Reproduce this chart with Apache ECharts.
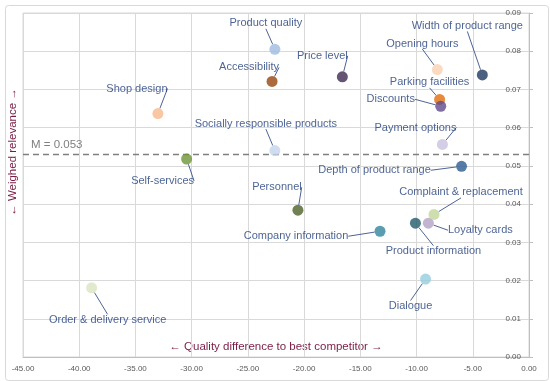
<!DOCTYPE html>
<html>
<head>
<meta charset="utf-8">
<script src="https://cdn.jsdelivr.net/npm/echarts@6/dist/echarts.min.js"></script>
<style>
html,body{margin:0;padding:0;background:#fff;}
#c{width:550px;height:381px;}
</style>
</head>
<body>
<div id="c"></div>
<script>
// ---- data ----
const names = [
  'Product quality','Accessibility','Shop design','Self-services','Socially responsible products',
  'Price level','Opening hours','Width of product range','Parking facilities','Discounts',
  'Payment options','Depth of product range','Order & delivery service','Personnel',
  'Company information','Product information','Loyalty cards','Complaint & replacement','Dialogue'
];
const qualityDiff = [-22.6,-22.85,-33.0,-30.45,-22.6,-16.6,-8.15,-4.15,-7.95,-7.85,-7.7,-6.0,-38.9,-20.55,-13.25,-10.1,-8.95,-8.45,-9.2];
const relevance   = [0.0805,0.0721,0.0637,0.0518,0.054,0.0733,0.0752,0.0738,0.0674,0.0656,0.0556,0.0499,0.0181,0.0384,0.0329,0.035,0.035,0.0373,0.0204];
const meanRelevance = 0.053;
const xTicks = [-45,-40,-35,-30,-25,-20,-15,-10,-5,0];
const yTicks = [0,0.01,0.02,0.03,0.04,0.05,0.06,0.07,0.08,0.09];

// ---- styles ----
const colors = ['#9DBBE0','#96460E','#F8B98C','#6E9534','#C3D5EA','#3F2B52','#FAD1B0','#1F3A5F','#E36C0A','#5E4A8C',
  '#C8C0DE','#2E5C8E','#D9E5BF','#4F6228','#31859C','#215A69','#B3A2C7','#C3D69B','#93CDDD'];
const labelOffsets = [[-9,-26],[-23,-14],[-21,-25],[-24,22],[-9,-27],[-20,-21],[-15,-26],[-15,-49],[-10,-17],[-50,-7],
  [-27,-17],[-87,4],[16,32],[-21,-23],[-84,5],[18,28],[52,7],[27,-22],[-15,27]];

const FONT = "'Liberation Sans',Arial,sans-serif";
const chart = echarts.init(document.getElementById('c'), null, {renderer:'canvas'});

const data = names.map((n,i)=>({
  name:n,
  value:[qualityDiff[i], relevance[i]],
  itemStyle:{color:colors[i]}
}));

chart.setOption({
  animation:false,
  backgroundColor:'#fff',
  grid:{left:23,right:21,top:13,bottom:24,show:true,borderColor:'#D9D9D9',borderWidth:1},
  xAxis:{
    type:'value',min:xTicks[0],max:xTicks[xTicks.length-1],interval:5,
    axisLine:{show:true,onZero:false,lineStyle:{color:'#BFBFBF'}},
    axisTick:{show:false},
    splitLine:{show:true,lineStyle:{color:'#D9D9D9'}},
    axisLabel:{color:'#595959',fontSize:8,fontFamily:FONT,margin:8,formatter:v=>v.toFixed(2)}
  },
  yAxis:{
    type:'value',position:'right',min:yTicks[0],max:yTicks[yTicks.length-1],interval:0.01,
    axisLine:{show:true,lineStyle:{color:'#BFBFBF'}},
    axisTick:{show:true,inside:false,length:4,lineStyle:{color:'#BFBFBF'}},
    splitLine:{show:true,lineStyle:{color:'#D9D9D9'}},
    axisLabel:{inside:true,color:'#595959',fontSize:8,fontFamily:FONT,margin:8,formatter:v=>v.toFixed(2)}
  },
  graphic:[
    {type:'rect',left:3,top:3,shape:{width:543,height:375,r:3},style:{fill:'none',stroke:'#D9D9D9',lineWidth:1},silent:true,z:-10},
    {type:'text',x:13,y:152,rotation:Math.PI/2,style:{text:'← Weighed relevance →',fill:'#7A1C45',font:"11.5px "+FONT,align:'center',verticalAlign:'middle'}},
    {type:'text',x:276,y:347,style:{text:'← Quality difference to best competitor →',fill:'#7A1C45',font:"11.5px "+FONT,align:'center',verticalAlign:'middle'}}
  ],
  series:[{
    type:'scatter',
    symbolSize:11,
    data:data,
    label:{
      show:true,position:'inside',formatter:p=>p.name,
      color:'#1F3C78',fontSize:11,fontFamily:FONT,align:'center',verticalAlign:'middle'
    },
    labelLine:{show:true,length2:0,lineStyle:{color:'#1F3C78',width:0.8}},
    labelLayout:function(p){
      const o = labelOffsets[p.dataIndex];
      return {dx:o[0],dy:o[1],hideOverlap:false};
    },
    markLine:{
      silent:true,symbol:'none',precision:4,
      lineStyle:{color:'#7F7F7F',type:[6,4],width:1.3},
      label:{show:true,position:'insideStartTop',formatter:'M = '+meanRelevance,color:'#7F7F7F',fontSize:11.5,fontFamily:FONT,distance:[8,4]},
      data:[{yAxis:meanRelevance}]
    },
    z:5
  }]
});
</script>
</body>
</html>
